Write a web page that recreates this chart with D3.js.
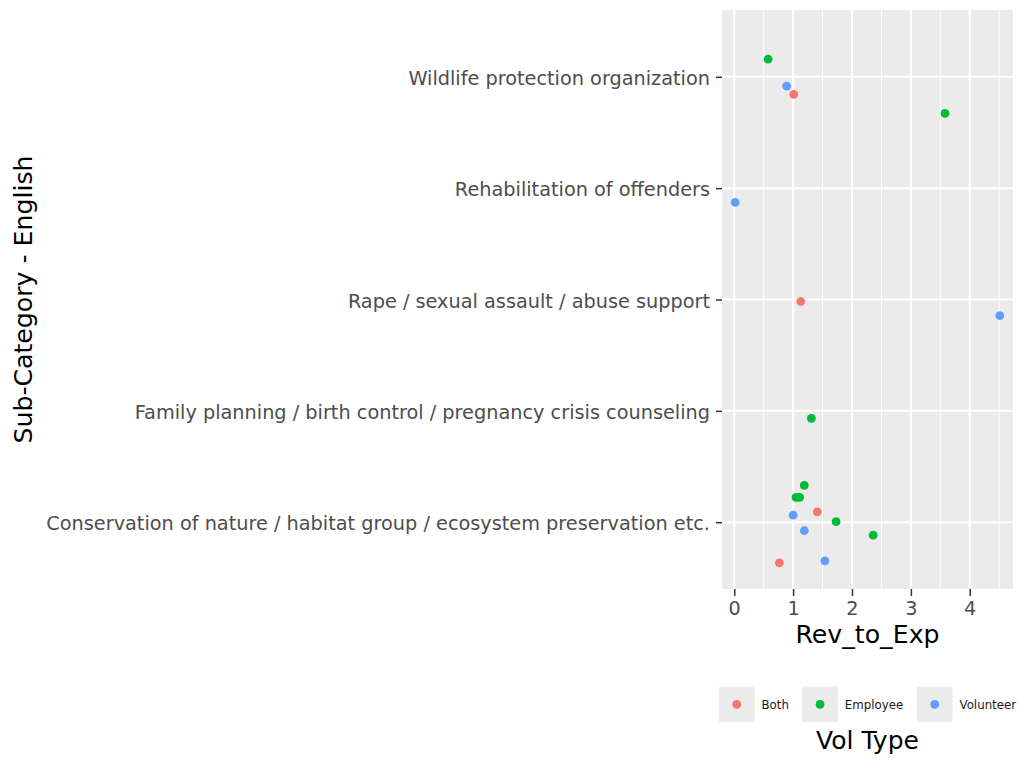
<!DOCTYPE html>
<html>
<head>
<meta charset="utf-8">
<script src="https://cdn.jsdelivr.net/npm/d3@7"></script>
<style>
  body { margin: 0; background: #fff; }
  text { font-family: "DejaVu Sans", sans-serif; }
</style>
</head>
<body>
<div id="chart"></div>
<script>
// categories in axis order (bottom to top)
const categories = [
  "Conservation of nature / habitat group / ecosystem preservation etc.",
  "Family planning / birth control / pregnancy crisis counseling",
  "Rape / sexual assault / abuse support",
  "Rehabilitation of offenders",
  "Wildlife protection organization",
];
const volTypes = ["Both", "Employee", "Volunteer"];
const volColors = ["#F8766D", "#00BA38", "#619CFF"];

// one entry per point
const pointCategory = [4, 4, 4, 4, 3, 2, 2, 1, 0, 0, 0, 0, 0, 0, 0, 0, 0, 0];
const pointType = ["Employee", "Volunteer", "Both", "Employee", "Volunteer", "Both", "Volunteer", "Employee",
  "Employee", "Employee", "Employee", "Both", "Volunteer", "Employee", "Employee", "Volunteer", "Volunteer", "Both"];
const revToExp = [0.575, 0.89, 1.01, 3.58, 0.017, 1.13, 4.51, 1.31,
  1.19, 1.05, 1.11, 1.41, 1.0, 1.73, 2.36, 1.19, 1.54, 0.766];
// vertical jitter, in category units
const jitter = [0.159, -0.084, -0.158, -0.329, -0.128, -0.018, -0.144, -0.068,
  0.33, 0.222, 0.222, 0.093, 0.063, 0.005, -0.117, -0.075, -0.347, -0.365];

const xTicks = [0, 1, 2, 3, 4];
const xMinor = [0.5, 1.5, 2.5, 3.5, 4.5];

const width = 1024, height = 768;
const panel = { left: 722, right: 1013, top: 10, bottom: 589 };

const svg = d3.select("#chart").append("svg")
  .attr("width", width)
  .attr("height", height);

svg.append("rect").attr("width", width).attr("height", height).attr("fill", "#fff");

const xExt = d3.extent(revToExp);
const pad = (xExt[1] - xExt[0]) * 0.05;
const x = d3.scaleLinear()
  .domain([xExt[0] - pad, xExt[1] + pad])
  .range([panel.left, panel.right]);

const y = d3.scaleLinear()
  .domain([0.4, categories.length + 0.6])
  .range([panel.bottom, panel.top]);

const color = d3.scaleOrdinal().domain(volTypes).range(volColors);

// panel background
svg.append("rect")
  .attr("x", panel.left)
  .attr("y", panel.top)
  .attr("width", panel.right - panel.left)
  .attr("height", panel.bottom - panel.top)
  .attr("fill", "#EBEBEB");

// grid
svg.selectAll(".minor")
  .data(xMinor)
  .enter()
  .append("line")
  .attr("x1", (d) => x(d)).attr("x2", (d) => x(d))
  .attr("y1", panel.top).attr("y2", panel.bottom)
  .attr("stroke", "#fff").attr("stroke-width", 1);

svg.selectAll(".majorx")
  .data(xTicks)
  .enter()
  .append("line")
  .attr("x1", (d) => x(d)).attr("x2", (d) => x(d))
  .attr("y1", panel.top).attr("y2", panel.bottom)
  .attr("stroke", "#fff").attr("stroke-width", 2);

svg.selectAll(".majory")
  .data(categories)
  .enter()
  .append("line")
  .attr("x1", panel.left).attr("x2", panel.right)
  .attr("y1", (d, i) => y(i + 1)).attr("y2", (d, i) => y(i + 1))
  .attr("stroke", "#fff").attr("stroke-width", 2);

// points
const points = revToExp.map((v, i) => ({
  value: v,
  pos: pointCategory[i] + 1 + jitter[i],
  type: pointType[i],
}));

svg.selectAll(".pt")
  .data(points)
  .enter()
  .append("circle")
  .attr("cx", (d) => x(d.value))
  .attr("cy", (d) => y(d.pos))
  .attr("r", 4.4)
  .attr("fill", (d) => color(d.type));

// x axis
const xAxis = svg.append("g")
  .attr("transform", `translate(0,${panel.bottom})`)
  .call(d3.axisBottom(x).tickValues(xTicks).tickSize(7).tickPadding(5).tickFormat(d3.format("d")));
xAxis.select(".domain").remove();
xAxis.selectAll("line").attr("stroke", "#333").attr("stroke-width", 1.5);
xAxis.selectAll("text").attr("fill", "#4d4d4d").style("font-size", "19.3px")
  .style("font-family", "DejaVu Sans");

// y axis
const yAxis = svg.append("g")
  .attr("transform", `translate(${panel.left},0)`)
  .call(d3.axisLeft(y).tickValues(d3.range(1, categories.length + 1))
    .tickSize(6).tickPadding(6).tickFormat((d) => categories[d - 1]));
yAxis.select(".domain").remove();
yAxis.selectAll("line").attr("stroke", "#333").attr("stroke-width", 1.5);
yAxis.selectAll("text").attr("fill", "#4d4d4d").style("font-size", "19.3px")
  .attr("dy", "0.4em")
  .style("font-family", "DejaVu Sans");

// axis titles
svg.append("text")
  .attr("x", (panel.left + panel.right) / 2)
  .attr("y", 643)
  .attr("text-anchor", "middle")
  .style("font-size", "25.2px")
  .text("Rev_to_Exp");

svg.append("text")
  .attr("transform", `translate(31.5,${(panel.top + panel.bottom) / 2}) rotate(-90)`)
  .attr("text-anchor", "middle")
  .style("font-size", "25.2px")
  .text("Sub-Category - English");

// legend
const legendX = [719, 802.3, 917];
const keySize = 35.5;
const legend = svg.selectAll(".legend")
  .data(volTypes)
  .enter()
  .append("g")
  .attr("transform", (d, i) => `translate(${legendX[i]},686.7)`);

legend.append("rect")
  .attr("width", keySize).attr("height", keySize)
  .attr("fill", "#EBEBEB");

legend.append("circle")
  .attr("cx", keySize / 2).attr("cy", keySize / 2)
  .attr("r", 4.4)
  .attr("fill", (d) => color(d));

legend.append("text")
  .attr("x", keySize + 7)
  .attr("y", keySize / 2 + 4.2)
  .style("font-size", "11.8px")
  .attr("fill", "#1a1a1a")
  .text((d) => d);

svg.append("text")
  .attr("x", 867.5)
  .attr("y", 749)
  .attr("text-anchor", "middle")
  .style("font-size", "25px")
  .text("Vol Type");
</script>
</body>
</html>
